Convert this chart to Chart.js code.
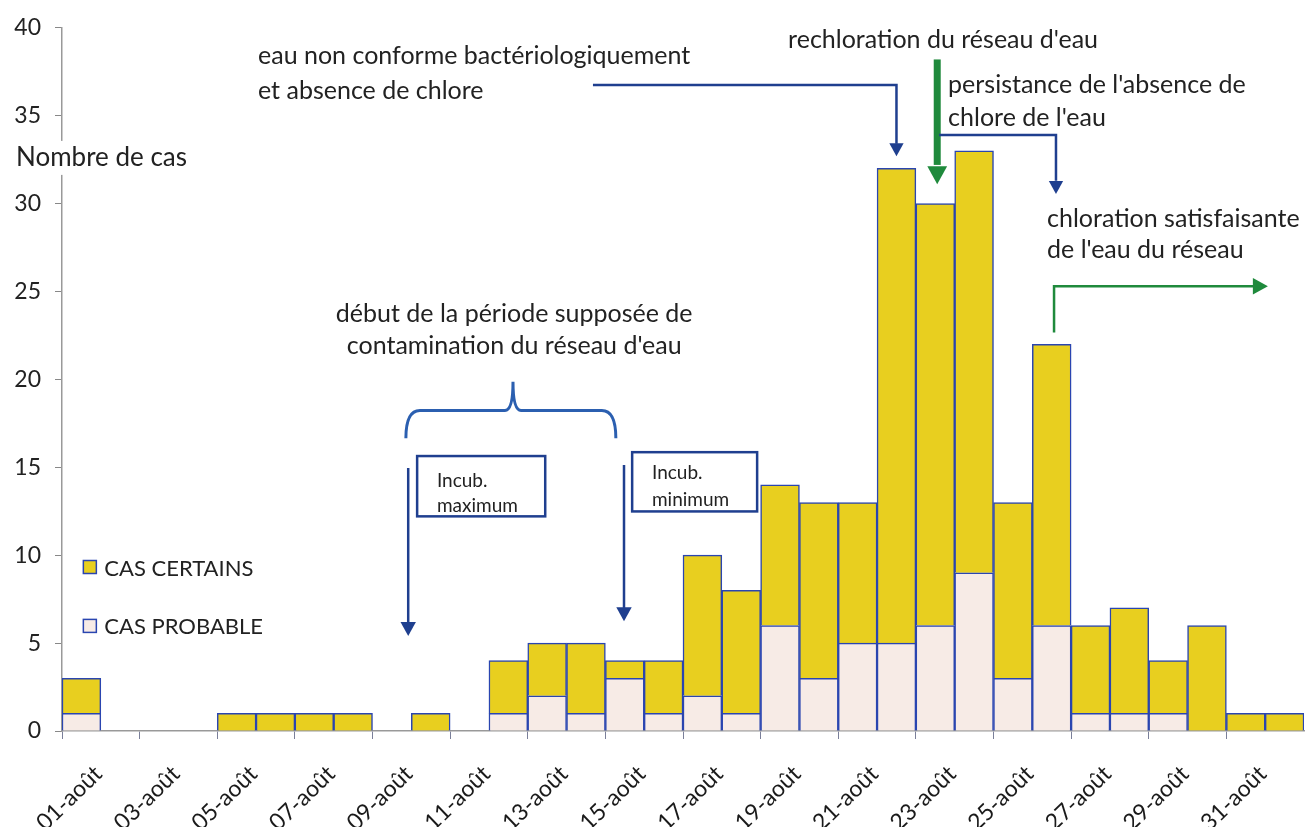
<!DOCTYPE html>
<html lang="fr">
<head>
<meta charset="UTF-8">
<title>Nombre de cas</title>
<script src="https://cdn.jsdelivr.net/npm/chart.js"></script>
<style>
  body { margin: 0; background: #fff; }
  #wrap { width: 1314px; height: 827px; }
</style>
</head>
<body>
<div id="wrap"><canvas id="epiChart" width="1314" height="827"></canvas></div>
<script>
// jours (01-août .. 01-sept)
const days = ['01-août','02-août','03-août','04-août','05-août','06-août','07-août','08-août',
  '09-août','10-août','11-août','12-août','13-août','14-août','15-août','16-août','17-août',
  '18-août','19-août','20-août','21-août','22-août','23-août','24-août','25-août','26-août',
  '27-août','28-août','29-août','30-août','31-août','01-sept'];
const casProbables = [1,0,0,0,0,0,0,0,0,0,0,1,2,1,3,1,2,1,6,3,5,5,6,9,3,6,1,1,1,0,0,0];
const casCertains  = [2,0,0,0,1,1,1,1,0,1,0,3,3,4,1,3,8,7,8,10,8,27,24,24,10,16,5,6,3,6,1,1];
const yTicks = [0,5,10,15,20,25,30,35,40];

const FONT = 'Lato, "Open Sans", sans-serif';
const BLUE = '#1f3f8f';
const GREEN = '#1f8a3c';
const BAR_EDGE = '#2a45b0';

// positions in (bar index, value) units
const texts = [
  { t: 'eau non conforme bactériologiquement', i: 4.55, v: 38.4, align: 'left' },
  { t: 'et absence de chlore', i: 4.55, v: 36.4, align: 'left' },
  { t: "rechloration du réseau d'eau", i: 22.2, v: 39.3, align: 'center' },
  { t: "persistance de l'absence de", i: 22.33, v: 36.74, align: 'left' },
  { t: "chlore de l'eau", i: 22.33, v: 34.9, align: 'left' },
  { t: 'chloration satisfaisante', i: 24.88, v: 29.14, align: 'left' },
  { t: "de l'eau du réseau", i: 24.88, v: 27.34, align: 'left' },
  { t: 'début de la période supposée de', i: 11.15, v: 23.74, align: 'center' },
  { t: "contamination du réseau d'eau", i: 11.15, v: 21.88, align: 'center' }
];

// étiquettes de l'axe X, un jour sur deux, inclinées
const xLabelPlugin = {
  id: 'xlabels',
  afterDraw(chart) {
    const ctx = chart.ctx, xs = chart.scales.x;
    ctx.save();
    ctx.font = '23px ' + FONT;
    ctx.fillStyle = '#1a1a1a';
    ctx.textAlign = 'right';
    ctx.textBaseline = 'top';
    days.forEach((d, i) => {
      if (i % 2 !== 0 || i > 30) return;
      ctx.save();
      ctx.translate(xs.getPixelForValue(i) + 9, xs.top + 31);
      ctx.rotate(-44 * Math.PI / 180);
      ctx.fillText(d, 0, 0);
      ctx.restore();
    });
    ctx.restore();
  }
};

const arrowPlugin = {
  id: 'annots',
  afterDraw(chart) {
    const ctx = chart.ctx;
    const xs = chart.scales.x, ys = chart.scales.y;
    const step = xs.getPixelForValue(1) - xs.getPixelForValue(0);
    const X = i => xs.getPixelForValue(0) + i * step;
    const Y = v => ys.getPixelForValue(v);

    function path(pts, color, w) {
      ctx.beginPath();
      ctx.moveTo(X(pts[0][0]), Y(pts[0][1]));
      for (let k = 1; k < pts.length; k++) ctx.lineTo(X(pts[k][0]), Y(pts[k][1]));
      ctx.strokeStyle = color; ctx.lineWidth = w; ctx.lineJoin = 'miter';
      ctx.stroke();
    }
    function head(i, v, dir, color, size) {
      const x = X(i), y = Y(v);
      ctx.beginPath();
      if (dir === 'down') {
        ctx.moveTo(x, y); ctx.lineTo(x - size * 0.55, y - size); ctx.lineTo(x + size * 0.55, y - size);
      } else {
        ctx.moveTo(x, y); ctx.lineTo(x - size, y - size * 0.55); ctx.lineTo(x - size, y + size * 0.55);
      }
      ctx.closePath(); ctx.fillStyle = color; ctx.fill();
    }

    ctx.save();
    // textes
    ctx.fillStyle = '#222';
    ctx.font = '25px ' + FONT;
    ctx.textBaseline = 'middle';
    texts.forEach(a => { ctx.textAlign = a.align; ctx.fillText(a.t, X(a.i), Y(a.v)); });

    // eau non conforme -> 22 août
    path([[13.18, 36.74], [21, 36.74], [21, 33.4]], BLUE, 2.5);
    head(21, 32.7, 'down', BLUE, 13);
    // rechloration (vert épais)
    path([[22.05, 38.2], [22.05, 32.2]], GREEN, 7);
    head(22.05, 31.1, 'down', GREEN, 18);
    // persistance -> 26 août
    path([[22.1, 33.9], [25.11, 33.9], [25.11, 31.3]], BLUE, 2.5);
    head(25.11, 30.55, 'down', BLUE, 13);
    // chloration satisfaisante
    path([[25.06, 22.67], [25.06, 25.3], [30.2, 25.3]], GREEN, 2.5);
    head(30.57, 25.3, 'right', GREEN, 15);

    // accolade
    ctx.beginPath();
    const bl = X(8.36), br = X(13.77), bc = X(11.12);
    const bt = Y(18.23), bs = Y(19.86), be = Y(16.65);
    ctx.moveTo(bl, be);
    ctx.quadraticCurveTo(bl, bt, bl + 14, bt);
    ctx.lineTo(bc - 8, bt);
    ctx.quadraticCurveTo(bc, bt, bc, bs);
    ctx.quadraticCurveTo(bc, bt, bc + 8, bt);
    ctx.lineTo(br - 14, bt);
    ctx.quadraticCurveTo(br, bt, br, be);
    ctx.strokeStyle = '#2b5fb0'; ctx.lineWidth = 3; ctx.stroke();

    // boîtes incubation
    ctx.lineWidth = 2.5; ctx.strokeStyle = BLUE;
    ctx.strokeRect(X(8.65), Y(15.64), X(11.95) - X(8.65), Y(12.21) - Y(15.64));
    ctx.strokeRect(X(14.19), Y(15.86), X(17.41) - X(14.19), Y(12.49) - Y(15.86));
    ctx.fillStyle = '#222'; ctx.font = '19px ' + FONT; ctx.textAlign = 'left';
    ctx.fillText('Incub.', X(9.16), Y(14.23));
    ctx.fillText('maximum', X(9.16), Y(12.83));
    ctx.fillText('Incub.', X(14.7), Y(14.68));
    ctx.fillText('minimum', X(14.7), Y(13.16));

    // flèches incubation
    path([[8.42, 14.96], [8.42, 6.2]], BLUE, 2.5);
    head(8.42, 5.4, 'down', BLUE, 14);
    path([[13.98, 15.13], [13.98, 7.0]], BLUE, 2.5);
    head(13.98, 6.24, 'down', BLUE, 14);

    // légende
    const legend = [['CAS CERTAINS', '#e8cf1f', 9.3], ['CAS PROBABLE', '#f7ebe6', 5.95]];
    ctx.font = '22px ' + FONT;
    legend.forEach(([lab, col, v]) => {
      const x = X(0.05), y = Y(v);
      ctx.fillStyle = col; ctx.fillRect(x, y - 7, 13, 13);
      ctx.strokeStyle = BAR_EDGE; ctx.lineWidth = 1.5; ctx.strokeRect(x, y - 7, 13, 13);
      ctx.fillStyle = '#222'; ctx.textAlign = 'left';
      ctx.fillText(lab, x + 21, y + 1);
    });

    // titre axe Y
    ctx.font = '26px ' + FONT;
    ctx.textAlign = 'left';
    const ty = Y(32.6);
    const tw = ctx.measureText('Nombre de cas').width;
    ctx.fillStyle = '#fff'; ctx.fillRect(12, ty - 17, tw + 8, 34);
    ctx.fillStyle = '#222'; ctx.fillText('Nombre de cas', 16, ty);
    ctx.restore();
  }
};

new Chart(document.getElementById('epiChart'), {
  type: 'bar',
  data: {
    labels: days,
    datasets: [
      { label: 'CAS PROBABLE', data: casProbables, backgroundColor: '#f7ebe6',
        borderColor: BAR_EDGE, borderWidth: 1.5, borderSkipped: 'bottom',
        barPercentage: 1, categoryPercentage: 1 },
      { label: 'CAS CERTAINS', data: casCertains, backgroundColor: '#e8cf1f',
        borderColor: BAR_EDGE, borderWidth: 1.5, borderSkipped: 'bottom',
        barPercentage: 1, categoryPercentage: 1 }
    ]
  },
  options: {
    responsive: false,
    animation: false,
    layout: { padding: { top: 12, right: 10, left: 0, bottom: 0 } },
    plugins: { legend: { display: false }, tooltip: { enabled: false } },
    scales: {
      x: {
        stacked: true,
        afterFit: s => { s.height = 96; s.paddingLeft = 0; s.paddingRight = 0; },
        grid: {
          drawOnChartArea: false, tickLength: 8, offset: true,
          tickColor: c => c.index % 2 === 0 ? '#7a7f99' : 'rgba(0,0,0,0)'
        },
        border: { color: '#999', width: 1.5 },
        ticks: { display: false, autoSkip: false }
      },
      y: {
        stacked: true, min: 0, max: 40,
        afterFit: s => { s.width = 62; },
        afterBuildTicks: s => { s.ticks = yTicks.map(v => ({ value: v })); },
        grid: { drawOnChartArea: false, color: '#888', tickLength: 7 },
        border: { color: '#999', width: 1.5 },
        ticks: { color: '#222', padding: 14, font: { family: FONT, size: 23 } }
      }
    }
  },
  plugins: [arrowPlugin, xLabelPlugin]
});
</script>
</body>
</html>
